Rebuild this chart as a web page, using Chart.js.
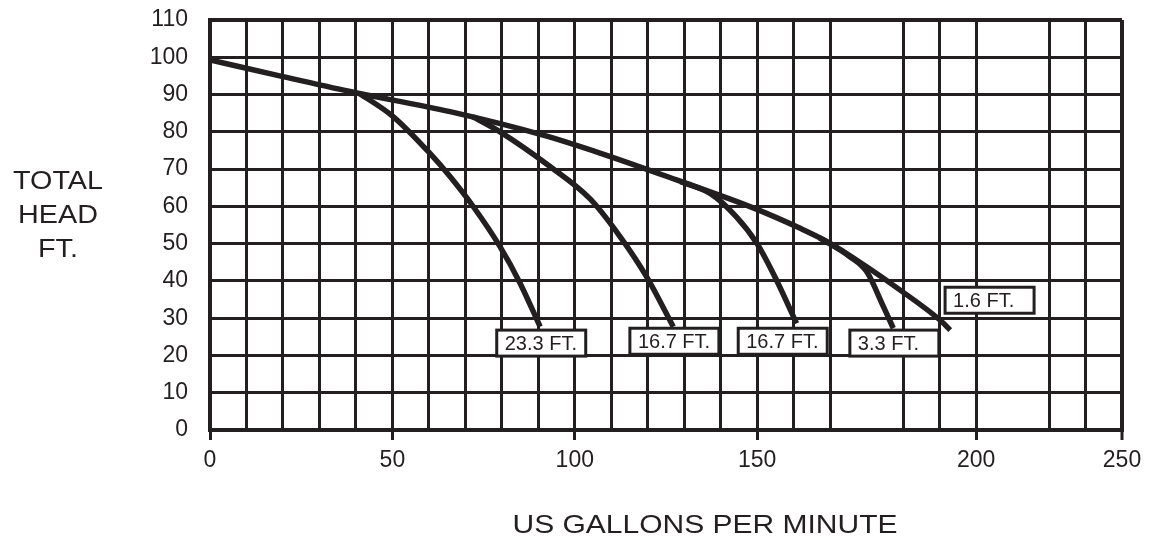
<!DOCTYPE html>
<html>
<head>
<meta charset="utf-8">
<script src="https://cdn.jsdelivr.net/npm/chart.js@4.4.1/dist/chart.umd.min.js"></script>
<style>
  html, body { margin: 0; padding: 0; background: #fff; }
  #wrap { width: 1149px; height: 541px; }
</style>
</head>
<body>
<div id="wrap"><canvas id="pumpChart"></canvas></div>
<script>
const ink = '#231f20'

// main curve (ends at the 1.6 FT. label), flow in gpm, head in ft
const mainFlow = [0, 20, 38.4, 65.8, 91.3, 106.9, 127.9, 148.9, 161.8, 170, 180, 189.1, 200.1, 202.9]
const mainHead = [99.3, 94.8, 90.8, 85.4, 79.1, 74.3, 67.1, 59.6, 54.1, 50.1, 43.8, 37.6, 29.5, 26.8]

// branch curves
const flow233 = [41, 50.2, 60.3, 65.8, 72.2, 79.5, 85, 90.5]
const head233 = [90.3, 84.1, 74.2, 68, 59.9, 49.2, 39.4, 27.7]

const flow167a = [72, 79.5, 93.2, 104.2, 112.4, 119.7, 127]
const head167a = [84.1, 80, 70.7, 62, 51.9, 41.1, 27.7]

const flow167b = [129, 137.1, 144.3, 149.9, 155.3, 160.8]
const head167b = [66.6, 63.5, 57.2, 50.1, 40.2, 28.6]

const flow33 = [167, 175.4, 180, 184.6, 187.3]
const head33 = [51.6, 46.5, 42.5, 33.1, 27.3]

// boxed labels (top-left corner of each box, in chart units)
const curveLabels = ['23.3 FT.', '16.7 FT.', '16.7 FT.', '3.3 FT.', '1.6 FT.']
const labelFlow = [78.6, 115.1, 144.8, 175.4, 201.5]
const labelHead = [26.8, 27.3, 27.3, 26.8, 38.3]

// x axis: the printed tick labels sit at these grid positions
const xTickValues = [0, 50, 100, 150, 210, 250]
const xTickLabels = ['0', '50', '100', '150', '200', '250']
const missingGrid = [180, 220]

function toPoints(xs, ys){
    return xs.map((x, i) => ({x: x, y: ys[i]}))
}

function curve(xs, ys){
    return {
        data: toPoints(xs, ys),
        borderColor: ink,
        borderWidth: 5.5,
        pointRadius: 0,
        fill: false,
        cubicInterpolationMode: 'monotone'
    }
}

const textPlugin = {
    id: 'pumpText',
    afterDraw(chart){
        const ctx = chart.ctx
        const xs = chart.scales.x, ys = chart.scales.y
        ctx.save()
        // boxed curve labels
        for (let i in curveLabels){
            const bx = xs.getPixelForValue(labelFlow[i])
            const by = ys.getPixelForValue(labelHead[i])
            ctx.fillStyle = '#fff'
            ctx.fillRect(bx, by, 89, 26)
            ctx.strokeStyle = ink
            ctx.lineWidth = 3
            ctx.strokeRect(bx, by, 89, 26)
            ctx.fillStyle = ink
            ctx.font = '20px "Liberation Sans", Arial, sans-serif'
            ctx.textAlign = 'left'
            ctx.textBaseline = 'middle'
            ctx.fillText(curveLabels[i], bx + 8, by + 14)
        }
        // axis titles (slightly wide lettering like the print)
        ctx.font = '25px "Liberation Sans", Arial, sans-serif'
        ctx.textAlign = 'center'
        ctx.textBaseline = 'middle'
        const yTitle = ['TOTAL', 'HEAD', 'FT.']
        for (let i in yTitle){
            ctx.save()
            ctx.translate(58, 182 + i * 34)
            ctx.scale(1.15, 1)
            ctx.fillText(yTitle[i], 0, 0)
            ctx.restore()
        }
        ctx.save()
        ctx.translate(705, 526)
        ctx.scale(1.2, 1)
        ctx.fillText('US GALLONS PER MINUTE', 0, 0)
        ctx.restore()
        ctx.restore()
    }
}

new Chart('pumpChart', {
    type: 'line',
    data: {
        datasets: [
            curve(mainFlow, mainHead),
            curve(flow233, head233),
            curve(flow167a, head167a),
            curve(flow167b, head167b),
            curve(flow33, head33)
        ]
    },
    options: {
        responsive: true,
        maintainAspectRatio: false,
        animation: false,
        events: [],
        layout: { padding: { top: 20, right: 27, left: 0, bottom: 0 } },
        plugins: { legend: { display: false }, tooltip: { enabled: false } },
        scales: {
            x: {
                type: 'linear',
                min: 0,
                max: 250,
                afterBuildTicks: s => {
                    const t = []
                    for (let v = 0; v <= 250; v += 10) t.push({value: v})
                    s.ticks = t
                },
                afterFit: s => {
                    s.height = 111
                    s.paddingLeft = 0
                    s.paddingRight = 0
                },
                ticks: {
                    autoSkip: false,
                    maxRotation: 0,
                    padding: 7,
                    color: ink,
                    font: { family: '"Liberation Sans", Arial, sans-serif', size: 23 },
                    callback: v => {
                        const i = xTickValues.indexOf(v)
                        return i >= 0 ? xTickLabels[i] : ''
                    }
                },
                grid: {
                    color: c => missingGrid.includes(c.tick.value) ? 'rgba(0,0,0,0)' : ink,
                    lineWidth: c => (c.tick.value === 250 ? 4 : 3),
                    tickColor: c => xTickValues.includes(c.tick.value) ? ink : 'rgba(0,0,0,0)',
                    tickLength: 10,
                    tickWidth: 3
                },
                border: { color: ink, width: 4 }
            },
            y: {
                min: 0,
                max: 110,
                afterFit: s => {
                    s.width = 210
                    s.paddingTop = 0
                    s.paddingBottom = 0
                },
                ticks: {
                    stepSize: 10,
                    padding: 22,
                    color: ink,
                    font: { family: '"Liberation Sans", Arial, sans-serif', size: 23 }
                },
                grid: {
                    color: ink,
                    lineWidth: c => (c.tick.value === 110 ? 4 : 3),
                    drawTicks: false
                },
                border: { color: ink, width: 4 }
            }
        }
    },
    plugins: [textPlugin]
})
</script>
</body>
</html>
